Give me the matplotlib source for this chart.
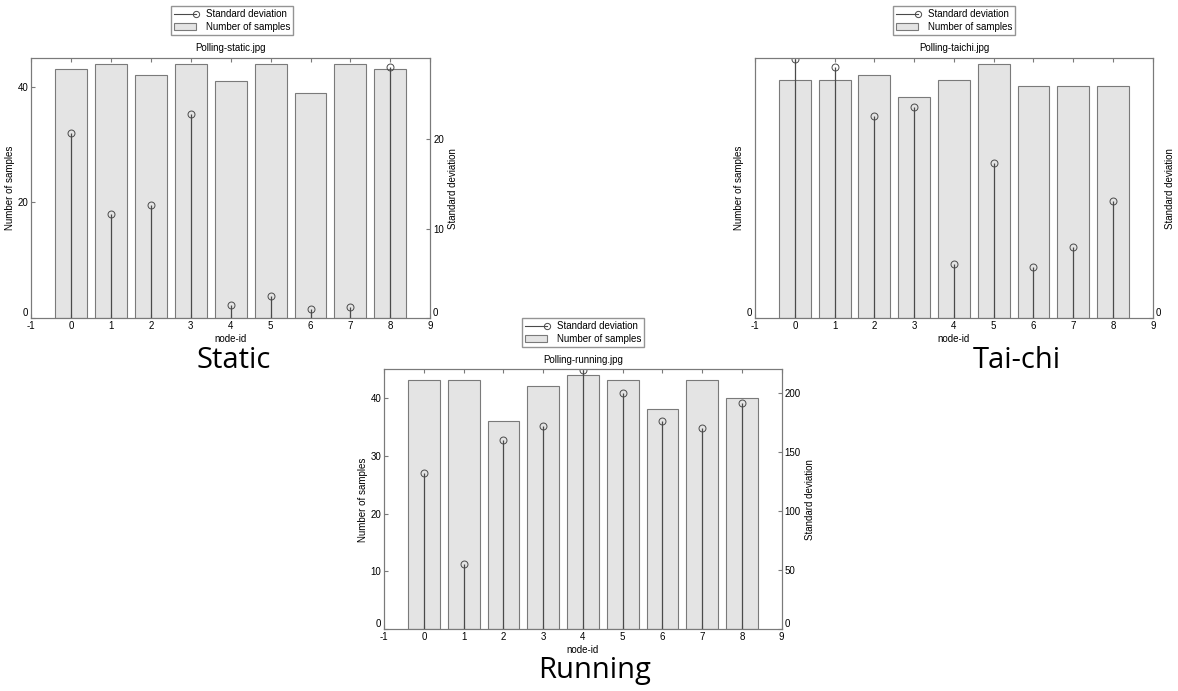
import matplotlib
matplotlib.use('Agg')
import matplotlib.pyplot as plt
from matplotlib.legend_handler import HandlerLine2D
from matplotlib.patches import Patch
from matplotlib.lines import Line2D

plt.rcParams['font.family'] = ['Liberation Sans', 'DejaVu Sans']
plt.rcParams['axes.unicode_minus'] = False

node_ids = [0, 1, 2, 3, 4, 5, 6, 7, 8]

static_samples = [43, 44, 42, 44, 41, 44, 39, 44, 43]
static_std = [20.7, 11.7, 12.7, 22.9, 1.5, 2.5, 1.0, 1.2, 28.1]

taichi_samples = [43, 43, 44, 40, 43, 46, 42, 42, 42]
taichi_std = [29.9, 29.0, 23.3, 24.4, 6.2, 17.9, 5.9, 8.2, 13.5]

running_samples = [43, 43, 36, 42, 44, 43, 38, 43, 40]
running_std = [132.5, 55.1, 160.7, 172.3, 219.7, 200.5, 176.3, 170.8, 191.8]

xticks = [-1, 0, 1, 2, 3, 4, 5, 6, 7, 8, 9]

bar_face = '#e4e4e4'
bar_edge = '#7a7a7a'
stem_col = '#4a4a4a'
frame_col = '#7a7a7a'
fs = 7


class StemLegend(HandlerLine2D):
    # matlab puts the stem marker at the right end of the legend line
    def create_artists(self, *args, **kwargs):
        arts = super().create_artists(*args, **kwargs)
        arts[0].set_markevery([2])
        return arts


def raise_zero(axis):
    # the zero label sits a little above its tick, like the original
    for lab in axis.get_ticklabels():
        if lab.get_text() == '0':
            lab.set_verticalalignment('bottom')


def panel(fig, rect, samples, std, title, left_lim, left_ticks, right_lim, right_ticks, leg_xy, caption, cap_xy):
    ax = fig.add_axes(rect)
    ax.bar(node_ids, samples, width=0.8, color=bar_face, edgecolor=bar_edge, linewidth=0.8, zorder=1)
    ax.set_xlim(-1, 9)
    ax.set_ylim(0, left_lim)
    ax.set_xticks(xticks)
    ax.set_yticks(left_ticks)
    ax.tick_params(direction='in', labelsize=fs, length=3, color=frame_col, top=True, pad=2)
    ax.set_xlabel('node-id', fontsize=fs, labelpad=2)
    ax.set_ylabel('Number of samples', fontsize=fs, labelpad=2)
    ax.set_title(title, fontsize=fs, pad=5)

    ax2 = ax.twinx()
    markers, stems, base = ax2.stem(node_ids, std, basefmt=' ')
    plt.setp(stems, color=stem_col, linewidth=0.9)
    plt.setp(markers, color=stem_col, markerfacecolor='none', markersize=5, markeredgewidth=0.7)
    ax2.set_ylim(0, right_lim)
    ax2.set_yticks(right_ticks)
    ax2.tick_params(direction='in', labelsize=fs, length=3, color=frame_col, pad=2)
    ax2.set_ylabel('Standard deviation', fontsize=fs, labelpad=3)
    for a in (ax, ax2):
        for s in a.spines.values():
            s.set_color(frame_col)
            s.set_linewidth(0.8)
    fig.canvas.draw()
    raise_zero(ax.yaxis)
    raise_zero(ax2.yaxis)

    handles = [Line2D([], [], color=stem_col, linewidth=0.8, marker='o', markerfacecolor='none',
                      markersize=4.5, markeredgewidth=0.7),
               Patch(facecolor=bar_face, edgecolor=bar_edge, linewidth=0.8)]
    fig.legend(handles, ['Standard deviation', 'Number of samples'], loc='center',
               bbox_to_anchor=leg_xy, fontsize=fs, frameon=True, fancybox=False,
               edgecolor=frame_col, handlelength=2.3, handletextpad=1.0, borderpad=0.3,
               labelspacing=0.3, numpoints=1, handler_map={handles[0]: StemLegend()})
    fig.text(cap_xy[0], cap_xy[1], caption, fontsize=21, ha='center', va='center',
             family=['Open Sans', 'DejaVu Sans'])


fig = plt.figure(figsize=(11.78, 6.91), dpi=100)

panel(fig, [0.0263, 0.5398, 0.339, 0.376], static_samples, static_std, 'Polling-static.jpg',
      44.95, [0, 20, 40], 29.1, [0, 10, 20], (0.197, 0.970), 'Static', (0.198, 0.478))
panel(fig, [0.641, 0.5398, 0.3376, 0.376], taichi_samples, taichi_std, 'Polling-taichi.jpg',
      47, [0], 30, [0], (0.810, 0.970), 'Tai-chi', (0.863, 0.478))
panel(fig, [0.3262, 0.0893, 0.3373, 0.376], running_samples, running_std, 'Polling-running.jpg',
      44.9, [0, 10, 20, 30, 40], 220.3, [0, 50, 100, 150, 200], (0.495, 0.519), 'Running', (0.505, 0.030))

fig.savefig('out.png', dpi=100)
